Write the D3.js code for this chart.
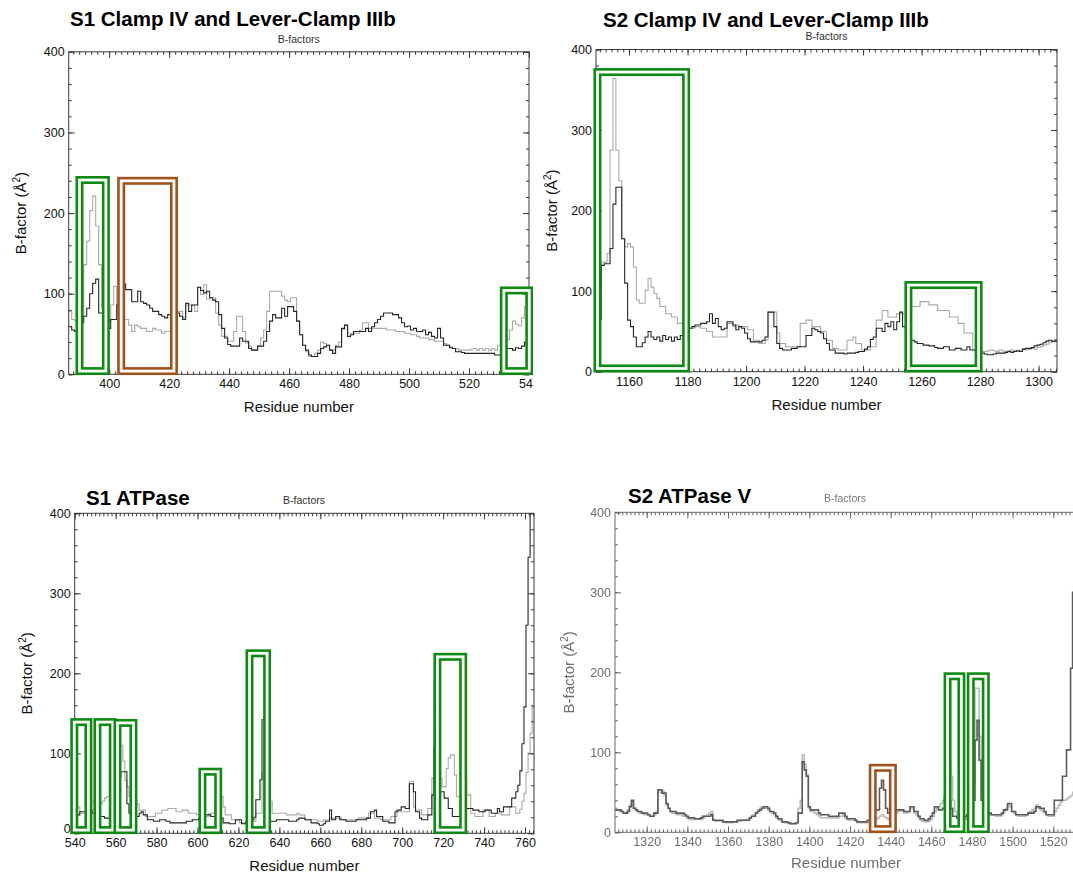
<!DOCTYPE html>
<html>
<head>
<meta charset="utf-8">
<script src="https://cdn.jsdelivr.net/npm/d3@7"></script>
<style>
  body { margin: 0; background: #fff; }
  svg  { display: block; }
</style>
</head>
<body>
<svg id="chart" width="1073" height="879"></svg>
<script>
'use strict';

// ── Data: per-residue B-factors (dark = first structure, light = second) ──
const Y_TICKS = [0, 100, 200, 300, 400];

// S1 Clamp IV and Lever-Clamp IIIb
const S1_CLAMP_START = 386;
const S1_CLAMP_TICKS = [400, 420, 440, 460, 480, 500, 520, 540];
const S1_CLAMP_DARK = [
  59,59,55,53,53,64,72,82,100,113, 118,76,76,82,57,68,68,86,86,112,
  105,105,90,90,103,90,88,86,82,78, 78,74,72,70,74,68,61,76,72,68,
  88,78,86,86,108,104,101,103,95,92, 90,74,57,45,37,35,35,35,45,41,
  41,32,30,30,35,35,41,53,66,74, 70,70,82,72,84,84,78,66,49,36,
  30,24,22,22,26,32,34,36,30,26, 34,34,57,61,47,49,53,53,53,53,
  57,53,59,64,68,72,76,76,76,74, 74,70,64,59,60,55,57,53,53,55,
  49,52,47,45,57,45,36,36,33,32, 28,28,27,26,26,26,26,26,26,26,
  26,26,26,24,24,30,30,32,32,30, 33,32,35,40,42
];
const S1_CLAMP_LIGHT = [
  78,78,68,66,66,68,136,165,203,221, 184,136,82,57,66,86,109,86,70,68,
  68,61,53,61,59,57,57,53,53,57, 55,55,51,53,53,51,70,78,78,70,
  86,86,86,78,108,99,111,93,95,95, 76,61,47,47,41,41,53,72,72,53,
  39,35,30,30,35,45,55,78,103,103, 103,103,97,92,90,95,95,66,49,36,
  28,22,22,26,30,40,38,36,30,30, 36,40,55,61,51,51,51,51,55,64,
  64,57,57,57,57,57,57,55,55,55, 53,53,53,51,51,49,49,47,45,45,
  45,43,43,41,41,41,38,36,34,32, 32,30,30,30,30,31,32,30,32,30,
  32,30,32,30,36,43,36,43,55,66, 62,60,70,84,84
];
const S1_CLAMP_BOXES = [
  { kind: 'green', from: 390.1, to: 398.9, top: 241 },
  { kind: 'brown', from: 404.0, to: 421.6, top: 240 },
  { kind: 'green', from: 531.6, to: 540.1, top: 104 }
];

// S2 Clamp IV and Lever-Clamp IIIb
const S2_CLAMP_START = 1149;
const S2_CLAMP_TICKS = [1160, 1180, 1200, 1220, 1240, 1260, 1280, 1300];
const S2_CLAMP_DARK = [
  65,65,132,134,134,153,208,229,229,165, 110,64,56,43,31,31,36,43,50,43,
  40,43,38,45,40,43,38,43,40,45, 48,52,54,56,58,58,60,60,62,72,
  60,66,56,52,54,62,62,58,52,56, 54,48,41,37,37,37,37,39,43,74,
  74,56,35,29,27,27,27,29,29,31, 31,31,45,45,54,52,50,48,41,35,
  27,27,23,23,23,22,23,23,23,24, 25,25,28,31,40,43,54,54,50,60,
  56,62,52,62,74,56,43,39,39,37, 35,35,33,33,32,32,30,29,29,31,
  31,27,27,29,29,27,27,31,27,27, 23,23,23,22,21,21,22,23,23,23,
  24,25,24,25,26,25,28,29,29,30, 32,33,34,36,38,39,38,38
];
const S2_CLAMP_LIGHT = [
  66,105,136,136,147,275,364,275,237,165, 155,159,155,130,89,85,85,101,116,105,
  97,91,81,81,72,72,68,68,60,60, 62,56,54,54,56,56,54,54,50,50,
  43,43,43,43,43,60,60,56,58,56, 56,56,52,52,39,39,35,35,39,74,
  74,74,48,35,35,31,31,31,31,31, 60,60,64,64,56,56,56,50,50,39,
  39,29,29,27,27,27,39,39,43,35, 35,27,27,27,31,31,64,64,76,76,
  68,68,68,72,72,72,72,81,81,81, 81,87,87,87,83,83,83,76,76,76,
  76,68,68,68,60,60,48,48,48,27, 27,26,25,25,26,27,26,25,27,26,
  25,26,27,26,25,27,28,27,28,29, 28,30,31,33,34,36,37,38
];
const S2_CLAMP_BOXES = [
  { kind: 'green', from: 1149.2, to: 1179.5, top: 372 },
  { kind: 'green', from: 1255.5, to: 1279.5, top: 107.6 }
];

// S1 ATPase
const S1_ATP_START = 540;
const S1_ATP_TICKS = [540, 560, 580, 600, 620, 640, 660, 680, 700, 720, 740, 760];
const S1_ATP_DARK = [
  23,23,23,27,27,27,29,29,29,25, 25,25,21,21,21,19,19,19,52,52,
  62,62,70,77,77,77,37,25,25,21, 21,21,25,27,23,23,17,17,17,15,
  15,15,17,17,17,15,15,13,13,13, 13,13,13,13,13,15,15,15,17,17,
  17,19,19,19,23,23,23,21,21,21, 19,19,19,13,13,13,12,12,12,17,
  17,17,12,12,14,17,17,17,20,42, 42,67,142,142,62,23,15,15,15,17,
  17,17,17,17,17,15,15,15,15,17, 19,19,19,17,17,17,13,13,13,12,
  10,10,12,15,15,29,17,17,21,21, 17,17,17,15,15,15,15,15,17,17,
  17,17,17,19,19,27,27,29,21,21, 21,15,15,15,13,13,13,27,29,29,
  33,33,31,31,62,62,52,27,27,19, 17,17,17,23,23,48,106,106,65,52,
  52,44,44,31,31,21,21,21,21,23, 29,29,31,31,31,29,29,29,27,27,
  27,29,29,29,25,25,25,31,27,27, 33,33,33,33,44,44,52,60,78,112,
  158,260,345,400,420
];
const S1_ATP_LIGHT = [
  40,33,33,25,25,25,29,29,40,40, 37,37,37,37,40,44,46,46,54,54,
  60,90,110,110,90,66,58,46,46,37, 37,37,29,29,29,21,21,21,21,21,
  25,25,25,29,29,29,31,31,31,31, 27,27,27,29,29,29,25,25,25,25,
  23,23,23,21,21,21,25,25,25,35, 35,46,46,33,23,23,23,17,17,17,
  17,13,13,13,13,13,15,15,15,25, 25,25,76,120,204,130,40,25,25,25,
  25,25,25,25,23,23,23,23,23,25, 23,23,23,17,17,17,17,17,17,15,
  15,15,17,17,17,19,19,19,19,19, 19,17,17,17,17,17,17,17,17,19,
  19,19,19,19,25,25,25,19,19,19, 17,17,17,17,17,21,21,21,27,27,
  27,27,27,27,65,65,33,29,29,29, 23,23,23,31,31,69,190,160,69,69,
  58,58,81,94,98,98,73,46,46,73, 73,65,48,48,25,25,21,21,21,21,
  29,29,29,21,21,21,25,25,25,23, 23,23,23,33,33,33,25,25,30,40,
  50,76,100,125,158
];
const S1_ATP_BOXES = [
  { kind: 'green', from: 539.8, to: 546.7, top: 139 },
  { kind: 'green', from: 551.1, to: 558.6, top: 139 },
  { kind: 'green', from: 560.9, to: 568.7, top: 138 },
  { kind: 'green', from: 602.4, to: 610.1, top: 77 },
  { kind: 'green', from: 625.4, to: 634.0, top: 225 },
  { kind: 'green', from: 717.2, to: 729.8, top: 220.6 }
];

// S2 ATPase V
const S2_ATP_START = 1304;
const S2_ATP_TICKS = [1320, 1340, 1360, 1380, 1400, 1420, 1440, 1460, 1480, 1500, 1520];
const S2_ATP_DARK = [
  28,28,28,28,26,24,24,26,32,40, 30,28,26,26,24,24,24,22,20,20,
  24,24,53,53,49,49,36,30,26,26, 26,24,24,24,24,22,20,18,18,18,
  17,17,17,18,20,20,20,20,22,15, 15,15,15,15,13,13,13,13,13,13,
  13,15,15,15,15,15,15,18,20,20, 24,26,28,30,32,32,30,26,26,24,
  20,17,17,13,13,13,12,11,11,11, 12,24,24,88,78,70,32,28,28,28,
  28,24,22,22,22,22,20,20,20,20, 20,24,24,24,20,17,17,17,17,15,
  13,13,13,13,13,15,15,36,36,28, 28,55,65,53,30,24,24,30,30,28,
  28,28,28,26,26,26,32,32,26,26, 20,17,17,15,15,17,20,24,32,32,
  28,28,30,45,45,40,30,20,20,18, 15,15,18,20,22,24,28,40,115,140,
  90,40,30,26,24,24,22,22,22,22, 22,24,28,28,36,36,26,26,22,22,
  22,22,22,22,24,24,24,26,32,32, 30,30,26,22,22,22,22,40,40,40,
  40,70,70,103,103,205,300,300
];
const S2_ATP_LIGHT = [
  30,30,28,26,26,24,24,28,34,38, 30,28,26,24,24,22,22,22,20,20,
  22,26,50,50,52,46,34,30,26,24, 24,22,22,22,20,20,18,16,16,16,
  16,16,16,16,18,20,22,24,26,16, 14,14,14,14,13,12,12,12,12,13,
  13,14,14,15,15,16,16,18,20,22, 24,28,30,32,30,30,28,26,24,22,
  18,16,15,13,12,12,11,10,10,10, 12,30,40,97,85,72,30,26,26,24,
  22,20,18,18,18,18,18,18,18,18, 18,20,20,22,18,16,15,15,15,14,
  12,12,12,12,12,12,12,14,15,16, 18,20,22,20,18,16,18,20,22,24,
  26,26,26,24,24,26,30,30,24,22, 18,15,14,13,13,14,16,20,26,30,
  32,36,40,50,60,90,70,40,26,22, 20,18,16,16,18,22,30,60,180,180,
  120,50,32,26,24,22,22,22,20,20, 20,22,26,30,34,32,26,24,22,20,
  20,20,20,22,24,26,28,30,34,30, 28,26,24,22,20,20,20,26,30,34,
  38,40,40,42,44,46,50,50
];
const S2_ATP_BOXES = [
  { kind: 'brown', from: 1431.2, to: 1441.1, top: 80.6 },
  { kind: 'green', from: 1468.0, to: 1474.8, top: 195 },
  { kind: 'green', from: 1479.4, to: 1486.8, top: 195 }
];

// ── Styling ────────────────────────────────────────────────────────────────
const FONT = "'Liberation Sans', Arial, Helvetica, sans-serif";
const BOX_COLORS = { green: '#0e8a12', brown: '#a0521c' };

const panels = [
  {
    title: 'S1 Clamp IV and Lever-Clamp IIIb', titleX: 70, titleY: 26, subY: 43,
    xDomain: [386.5, 540], left: 68.7, right: 529, top: 51.8, bottom: 374.3,
    ticks: S1_CLAMP_TICKS, start: S1_CLAMP_START, dark: S1_CLAMP_DARK, light: S1_CLAMP_LIGHT,
    boxes: S1_CLAMP_BOXES, ylabX: 26, xlabY: 412
  },
  {
    title: 'S2 Clamp IV and Lever-Clamp IIIb', titleX: 603, titleY: 27, subY: 40,
    xDomain: [1148.7, 1306.3], left: 596, right: 1057, top: 49.5, bottom: 371.7,
    ticks: S2_CLAMP_TICKS, start: S2_CLAMP_START, dark: S2_CLAMP_DARK, light: S2_CLAMP_LIGHT,
    boxes: S2_CLAMP_BOXES, ylabX: 557, xlabY: 410, bg: [533, 0, 540, 440]
  },
  {
    title: 'S1 ATPase', titleX: 86, titleY: 505, subY: 504, subX: 304,
    xDomain: [540, 764.4], left: 74.7, right: 534, top: 513.3, bottom: 833.3,
    ticks: S1_ATP_TICKS, start: S1_ATP_START, dark: S1_ATP_DARK, light: S1_ATP_LIGHT,
    boxes: S1_ATP_BOXES, ylabX: 32, xlabY: 871, zeroLift: true
  },
  {
    title: 'S2 ATPase V', titleX: 628, titleY: 503, subY: 502, subX: 845,
    xDomain: [1304.4, 1536], left: 615, right: 1085.8, top: 512.3, bottom: 832.3,
    ticks: S2_ATP_TICKS, start: S2_ATP_START, dark: S2_ATP_DARK, light: S2_ATP_LIGHT,
    boxes: S2_ATP_BOXES, ylabX: 574, xlabY: 868, xlabX: 846, bg: [560, 445, 520, 434],
    faded: true
  }
];

const svg = d3.select('#chart').attr('font-family', FONT);
const defs = svg.append('defs');
defs.append('filter').attr('id', 'soft')
  .attr('x', '-5%').attr('y', '-5%').attr('width', '110%').attr('height', '110%')
  .append('feGaussianBlur').attr('stdDeviation', 0.55);

panels.forEach((p, i) => drawPanel(p, i));

// ── Helpers ────────────────────────────────────────────────────────────────
function stepPoints(start, vals) {
  const pts = vals.map((v, i) => [start + i, v]);
  pts.unshift([start - 0.5, vals[0]]);
  pts.push([start + vals.length - 0.5, vals[vals.length - 1]]);
  return pts;
}

function drawPanel(p, idx) {
  const g = svg.append('g');
  if (p.bg) {
    g.append('rect').attr('x', p.bg[0]).attr('y', p.bg[1])
      .attr('width', p.bg[2]).attr('height', p.bg[3]).attr('fill', '#fff');
  }

  const x = d3.scaleLinear().domain(p.xDomain).range([p.left, p.right]);
  const y = d3.scaleLinear().domain([0, 400]).range([p.bottom, p.top]);

  const axisColor = p.faded ? '#6a6a6a' : '#3a3a3a';
  const textColor = p.faded ? '#6e6e6e' : '#111';
  const darkColor = p.faded ? '#5a5a5a' : '#262626';
  const lightColor = p.faded ? '#bdbdbd' : '#a9a9a9';

  const clipId = 'clip' + idx;
  defs.append('clipPath').attr('id', clipId).append('rect')
    .attr('x', p.left).attr('y', p.top)
    .attr('width', p.right - p.left).attr('height', p.bottom - p.top);

  const body = g.append('g');
  if (p.faded) body.attr('filter', 'url(#soft)');

  // step lines
  const line = d3.line().x(d => x(d[0])).y(d => y(d[1])).curve(d3.curveStep);
  const plot = body.append('g').attr('clip-path', `url(#${clipId})`);
  plot.append('path').datum(stepPoints(p.start, p.light))
    .attr('d', line).attr('fill', 'none')
    .attr('stroke', lightColor).attr('stroke-width', p.faded ? 1.6 : 1.1);
  plot.append('path').datum(stepPoints(p.start, p.dark))
    .attr('d', line).attr('fill', 'none')
    .attr('stroke', darkColor).attr('stroke-width', p.faded ? 1.6 : 1.1);

  // frame
  body.append('rect')
    .attr('x', p.left).attr('y', p.top)
    .attr('width', p.right - p.left).attr('height', p.bottom - p.top)
    .attr('fill', 'none').attr('stroke', axisColor).attr('stroke-width', 1);

  // ticks on all four sides, pointing inward
  const minX = d3.range(Math.ceil(p.xDomain[0] / 2) * 2, p.xDomain[1] + 0.01, 2);
  const minY = d3.range(0, 401, 20);
  const mk = (axis, tr) => {
    const a = body.append('g').attr('transform', tr).call(axis);
    a.select('.domain').remove();
    a.selectAll('line').attr('stroke', axisColor).attr('stroke-width', 1);
    a.selectAll('text').attr('font-size', 12.5).attr('fill', textColor)
      .attr('font-family', FONT);
    return a;
  };
  mk(d3.axisBottom(x).tickValues(p.ticks).tickSize(-6).tickPadding(5)
    .tickFormat(d3.format('d')), `translate(0,${p.bottom})`);
  mk(d3.axisBottom(x).tickValues(minX).tickSize(-3).tickFormat(''), `translate(0,${p.bottom})`);
  mk(d3.axisTop(x).tickValues(p.ticks).tickSize(-6).tickFormat(''), `translate(0,${p.top})`);
  mk(d3.axisTop(x).tickValues(minX).tickSize(-3).tickFormat(''), `translate(0,${p.top})`);
  const yAx = mk(d3.axisLeft(y).tickValues(Y_TICKS).tickSize(-6).tickPadding(4)
    .tickFormat(d3.format('d')), `translate(${p.left},0)`);
  if (p.zeroLift) {
    // the "0" sits just above the first x label, as in the original
    yAx.selectAll('.tick').filter(d => d === 0).select('text').attr('dy', '-0.1em');
  }
  mk(d3.axisLeft(y).tickValues(minY).tickSize(-3).tickFormat(''), `translate(${p.left},0)`);
  mk(d3.axisRight(y).tickValues(Y_TICKS).tickSize(-6).tickFormat(''), `translate(${p.right},0)`);
  mk(d3.axisRight(y).tickValues(minY).tickSize(-3).tickFormat(''), `translate(${p.right},0)`);

  // axis titles
  const cx = p.xlabX || (p.left + p.right) / 2;
  body.append('text')
    .attr('x', cx).attr('y', p.xlabY)
    .attr('text-anchor', 'middle').attr('font-size', 15).attr('fill', textColor)
    .text('Residue number');

  const yl = body.append('text')
    .attr('transform', `translate(${p.ylabX},${(p.top + p.bottom) / 2}) rotate(-90)`)
    .attr('text-anchor', 'middle').attr('font-size', 15).attr('fill', textColor);
  yl.append('tspan').text('B-factor (Å');
  yl.append('tspan').attr('dy', -6).attr('font-size', 10).text('2');
  yl.append('tspan').attr('dy', 6).text(')');

  body.append('text')
    .attr('x', p.subX || (p.left + p.right) / 2).attr('y', p.subY)
    .attr('text-anchor', 'middle').attr('font-size', 10.5)
    .attr('fill', p.faded ? '#777' : '#333')
    .text('B-factors');

  // panel title
  g.append('text')
    .attr('x', p.titleX).attr('y', p.titleY)
    .attr('font-size', 20.5).attr('font-weight', 'bold').attr('fill', '#000')
    .text(p.title);

  // highlight boxes (double outline)
  const bx = g.append('g');
  p.boxes.forEach(b => {
    const rx = x(b.from), ry = y(b.top);
    const rw = x(b.to) - x(b.from), rh = y(4) - y(b.top);
    bx.append('rect').attr('x', rx).attr('y', ry).attr('width', rw).attr('height', rh)
      .attr('fill', 'none').attr('stroke', BOX_COLORS[b.kind]).attr('stroke-width', 8);
    bx.append('rect').attr('x', rx).attr('y', ry).attr('width', rw).attr('height', rh)
      .attr('fill', 'none').attr('stroke', '#fafdf8').attr('stroke-width', 2.8);
  });
}
</script>
</body>
</html>
